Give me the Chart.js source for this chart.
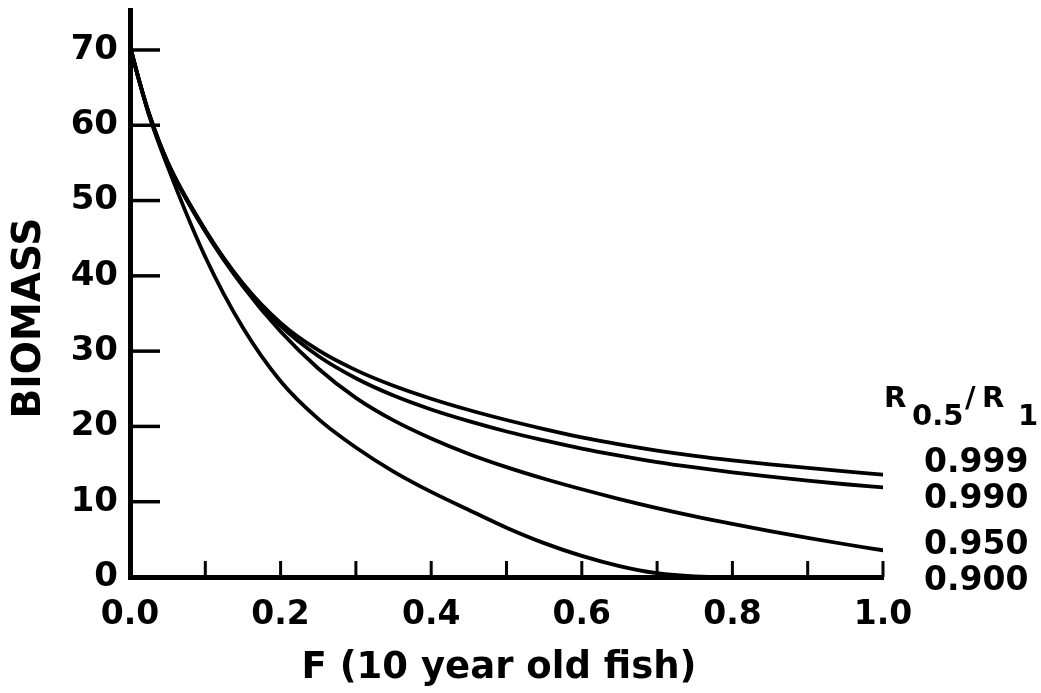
<!DOCTYPE html>
<html>
<head>
<meta charset="utf-8">
<script src="https://cdn.jsdelivr.net/npm/chart.js@4.4.1/dist/chart.umd.min.js"></script>
<style>
  html, body { margin: 0; padding: 0; background: #fff; }
  canvas { display: block; }
</style>
</head>
<body>
<canvas id="biomassChart" width="1041" height="693"></canvas>
<script>
// Fishing mortality F applied to 10-year-old fish
const fishingMortality = [0, 0.0125, 0.025, 0.05, 0.1, 0.15, 0.2, 0.25, 0.3, 0.35, 0.4, 0.45, 0.5, 0.55, 0.6, 0.65, 0.7, 0.75, 0.8, 0.85, 0.9, 0.95, 1.0];

// Biomass for each recruitment ratio R0.5/R1
const biomass0999 = [70.5, 65.8, 61.6, 55.1, 46.1, 39.0, 33.76, 30.13, 27.48, 25.4, 23.68, 22.18, 20.85, 19.65, 18.55, 17.62, 16.8, 16.1, 15.5, 14.97, 14.48, 14.03, 13.6];
const biomass0990 = [70.5, 65.8, 61.6, 55.05, 46.0, 38.85, 33.35, 29.35, 26.4, 24.1, 22.25, 20.7, 19.33, 18.15, 17.05, 16.12, 15.27, 14.55, 13.9, 13.33, 12.8, 12.32, 11.9];
const biomass0950 = [70.5, 65.8, 61.6, 55.0, 45.9, 38.6, 32.6, 27.7, 23.8, 20.8, 18.4, 16.35, 14.6, 13.05, 11.65, 10.35, 9.15, 8.05, 7.05, 6.1, 5.2, 4.35, 3.55];
const biomass0900 = [70.5, 65.8, 61.4, 54.5, 42.5, 33.1, 26.0, 21.0, 17.2, 14.0, 11.3, 8.9, 6.55, 4.5, 2.8, 1.45, 0.5, 0.08, 0, 0, 0, 0, 0];

const seriesLabels = ['0.999', '0.990', '0.950', '0.900'];
const seriesValues = [biomass0999, biomass0990, biomass0950, biomass0900];

const xTickValues = [0, 0.1, 0.2, 0.3, 0.4, 0.5, 0.6, 0.7, 0.8, 0.9, 1.0];
const xTickLabels = ['0.0', '', '0.2', '', '0.4', '', '0.6', '', '0.8', '', '1.0'];
const yTickValues = [0, 10, 20, 30, 40, 50, 60, 70];

const xTitle = 'F (10 year old fish)';
const yTitle = 'BIOMASS';
const legendHead = { main: 'R', sub: '0.5', slash: '/', main2: 'R', sub2: '1' };

const FONT = '"DejaVu Sans", "Liberation Sans", Arial, sans-serif';
const INK = '#000';

function boldFont(px) { return 'bold ' + px + 'px ' + FONT; }

// Draws inward tick marks, axis titles and the right-hand ratio key
const paperAxes = {
  id: 'paperAxes',
  afterDraw(chart) {
    const ctx = chart.ctx;
    const xs = chart.scales.x, ys = chart.scales.y;
    const area = chart.chartArea;
    ctx.save();
    ctx.strokeStyle = INK;
    ctx.fillStyle = INK;
    ctx.lineCap = 'butt';

    // y ticks pointing into the plot
    ctx.lineWidth = 3.5;
    yTickValues.forEach(v => {
      if (v === 0) return;
      const py = ys.getPixelForValue(v);
      ctx.beginPath();
      ctx.moveTo(area.left, py);
      ctx.lineTo(area.left + 30, py);
      ctx.stroke();
    });
    // x ticks pointing up
    ctx.lineWidth = 3;
    xTickValues.forEach(v => {
      if (v === 0) return;
      const px = xs.getPixelForValue(v);
      ctx.beginPath();
      ctx.moveTo(px, area.bottom);
      ctx.lineTo(px, area.bottom - 16);
      ctx.stroke();
    });

    // axis titles
    ctx.textAlign = 'center';
    ctx.textBaseline = 'middle';
    ctx.font = boldFont(37);
    ctx.fillText(xTitle, 499, 668);

    ctx.save();
    ctx.font = boldFont(39);
    ctx.translate(30, 318);
    ctx.rotate(-Math.PI / 2);
    ctx.fillText(yTitle, 0, 0);
    ctx.restore();

    // key header R0.5/R1
    ctx.textAlign = 'left';
    ctx.textBaseline = 'alphabetic';
    ctx.font = boldFont(29);
    const hx = area.right;
    ctx.fillText(legendHead.main, hx + 1, 407);
    ctx.fillText(legendHead.sub, hx + 29, 425);
    ctx.fillText(legendHead.slash, hx + 82, 407);
    ctx.fillText(legendHead.main2, hx + 99, 407);
    ctx.fillText(legendHead.sub2, hx + 135, 425);

    // ratio labels beside the curve ends, spread apart so they do not overlap
    const labelY = seriesValues.map(s => ys.getPixelForValue(s[s.length - 1]));
    const gap = 36;
    for (let k = 0; k < 60; k++) {
      for (let i = 0; i < labelY.length - 1; i++) {
        const diff = labelY[i + 1] - labelY[i];
        if (diff < gap) {
          const d = (gap - diff) / 2;
          labelY[i] -= d;
          labelY[i + 1] += d;
        }
      }
    }
    ctx.font = boldFont(33);
    ctx.textBaseline = 'middle';
    seriesLabels.forEach((lab, i) => {
      ctx.fillText(lab, hx + 41, labelY[i]);
    });
    ctx.restore();
  }
};

const datasets = seriesValues.map((vals, i) => ({
  label: seriesLabels[i],
  data: fishingMortality.map((f, j) => ({ x: f, y: vals[j] })),
  borderColor: INK,
  borderWidth: 3.8,
  pointRadius: 0,
  fill: false,
  cubicInterpolationMode: 'monotone',
  borderCapStyle: 'round'
}));

new Chart(document.getElementById('biomassChart'), {
  type: 'line',
  data: { datasets },
  plugins: [paperAxes],
  options: {
    responsive: false,
    animation: false,
    devicePixelRatio: 1,
    layout: { padding: { left: 0, top: 10, right: 158, bottom: 0 } },
    plugins: { legend: { display: false }, tooltip: { enabled: false } },
    scales: {
      x: {
        type: 'linear',
        min: 0,
        max: 1.0,
        grid: { display: false },
        border: { display: true, color: INK, width: 5 },
        afterBuildTicks(scale) { scale.ticks = xTickValues.map(v => ({ value: v })); },
        afterFit(scale) {
          scale.height = 116;
          scale.paddingLeft = 0;
          scale.paddingRight = 0;
        },
        ticks: {
          autoSkip: false,
          maxRotation: 0,
          padding: 11,
          color: INK,
          font: { family: FONT, size: 33, weight: 'bold' },
          callback: (value, index) => xTickLabels[index]
        }
      },
      y: {
        type: 'linear',
        min: 0,
        max: 75.31,
        grid: { display: false },
        border: { display: true, color: INK, width: 5 },
        afterBuildTicks(scale) { scale.ticks = yTickValues.map(v => ({ value: v })); },
        afterFit(scale) {
          scale.width = 130;
          scale.paddingTop = 0;
          scale.paddingBottom = 0;
        },
        ticks: {
          padding: 4,
          color: INK,
          font: { family: FONT, size: 34, weight: 'bold' },
          callback: v => String(v)
        }
      }
    }
  }
});
</script>
</body>
</html>
